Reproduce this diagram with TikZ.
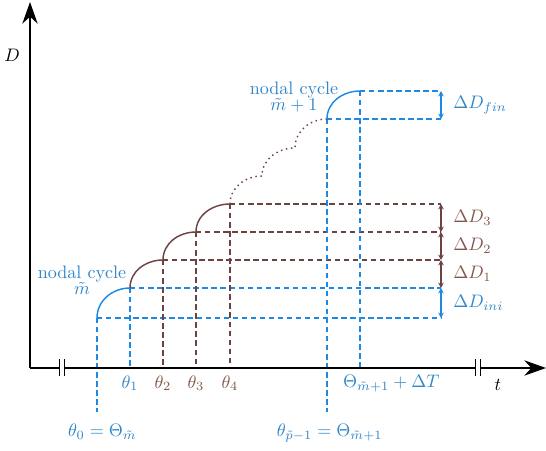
\documentclass[tikz,border=0pt]{standalone}
\usepackage{amsmath, amssymb}
\usepackage{tikz}
\usetikzlibrary{arrows.meta, positioning, calc}
\definecolor{cycBlue}{HTML}{1E88E5}
\definecolor{cycBlueTxt}{HTML}{2F86C8}
\definecolor{stepBrown}{HTML}{6D4242}
\definecolor{stepBrownTxt}{HTML}{85564C}

\begin{document}
\begin{tikzpicture}[
    x=0.553pt, y=0.553pt, >=Stealth,
    axis/.style={line width=0.7pt, -{Stealth[length=12pt, width=8.5pt]}},
    cyc/.style={line width=0.8pt, draw=#1},
    climb/.style={out=90, in=180},
    guide/.style={draw=#1, line width=0.6pt, dash pattern=on 3pt off 2pt},
    gap/.style={draw=#1, line width=0.6pt, {Stealth[length=3pt, width=3pt]}-{Stealth[length=3pt, width=3pt]}},
    lbl/.style={text=#1, inner sep=1pt},
  ]
    \useasboundingbox (-30,-83) rectangle (516,368);

    % axes ends
    \coordinate (O) at (0,0);
    \coordinate (tEnd) at (516,0);
    \coordinate (DEnd) at (0,366);
    \coordinate (brk1) at (32,0);
    \coordinate (brk2) at (448,0);
    \coordinate (col) at (411,0);
    \coordinate (low) at (0,-44);

    % step corners
    \coordinate (p0) at (67,50);
    \coordinate (p1) at (100,80);
    \coordinate (p2) at (133,108);
    \coordinate (p3) at (166,136);
    \coordinate (p4) at (200,164);
    \coordinate (q1) at (232,192);
    \coordinate (q2) at (265,220);
    \coordinate (q3) at (297,249);
    \coordinate (q4) at (330,277);

    % feet on the t axis
    \coordinate (f0) at (p0 |- low);
    \coordinate (f1) at (p1 |- O);
    \coordinate (f2) at (p2 |- O);
    \coordinate (f3) at (p3 |- O);
    \coordinate (f4) at (p4 |- O);
    \coordinate (g3) at (q3 |- low);
    \coordinate (g4) at (q4 |- O);

    % horizontal guides
    \draw[guide=cycBlue] (p0) -- (p0 -| col);
    \draw[guide=cycBlue] (p1) -- (p1 -| col);
    \draw[guide=stepBrown] (p2) -- (p2 -| col);
    \draw[guide=stepBrown] (p3) -- (p3 -| col);
    \draw[guide=stepBrown] (p4) -- (p4 -| col);
    \draw[guide=cycBlue] (q3) -- (q3 -| col);
    \draw[guide=cycBlue] (q4) -- (q4 -| col);

    % vertical guides
    \draw[guide=cycBlue] (p0) -- (f0);
    \draw[guide=cycBlue] (p1) -- (f1);
    \draw[guide=stepBrown] (p2) -- (f2);
    \draw[guide=stepBrown] (p3) -- (f3);
    \draw[guide=stepBrown] (p4) -- (f4);
    \draw[guide=cycBlue] (q3) -- (g3);
    \draw[guide=cycBlue] (q4) -- (g4);

    % increments
    \draw[gap=cycBlue] (p0 -| col) -- node[lbl=cycBlueTxt, right=5.5pt] (dIni) {$\Delta D_{ini}$} (p1 -| col);
    \draw[gap=stepBrown] (p1 -| col) -- node[lbl=stepBrownTxt, right=5.5pt] (d1) {$\Delta D_1$} (p2 -| col);
    \draw[gap=stepBrown] (p2 -| col) -- node[lbl=stepBrownTxt, right=5.5pt] (d2) {$\Delta D_2$} (p3 -| col);
    \draw[gap=stepBrown] (p3 -| col) -- node[lbl=stepBrownTxt, right=5.5pt] (d3) {$\Delta D_3$} (p4 -| col);
    \draw[gap=cycBlue] (q3 -| col) -- node[lbl=cycBlueTxt, right=5.5pt] (dFin) {$\Delta D_{fin}$} (q4 -| col);

    % damage steps
    \draw[cyc=cycBlue] (p0) to[climb] (p1);
    \draw[cyc=stepBrown] (p1) to[climb] (p2) to[climb] (p3) to[climb] (p4);
    \draw[cyc=stepBrown, dotted] (p4) to[climb] (q1) to[climb] (q2) to[climb] (q3);
    \draw[cyc=cycBlue] (q3) to[climb] (q4);

    % axes
    \draw[axis] (O) -- (tEnd);
    \draw[axis] (O) -- (DEnd);
    \foreach \b in {brk1, brk2} {
      \fill[white] ([xshift=-1.2pt, yshift=-1pt]\b) rectangle ([xshift=1.2pt, yshift=1pt]\b);
      \draw[line width=0.6pt] ([xshift=-1.2pt, yshift=-4.7pt]\b) -- ([xshift=-1.2pt, yshift=4.7pt]\b);
      \draw[line width=0.6pt] ([xshift=1.2pt, yshift=-4.7pt]\b) -- ([xshift=1.2pt, yshift=4.7pt]\b);
    }
    \node[inner sep=1pt] (tLbl) at (468,-17) {$t$};
    \node[inner sep=1pt] (DLbl) at (-18,313) {$D$};

    % instants
    \node[lbl=cycBlueTxt, below=3pt of f1] (th1) {$\theta_1$};
    \node[lbl=stepBrownTxt, below=3pt of f2] (th2) {$\theta_2$};
    \node[lbl=stepBrownTxt, below=3pt of f3] (th3) {$\theta_3$};
    \node[lbl=stepBrownTxt, below=3pt of f4] (th4) {$\theta_4$};
    \node[lbl=cycBlueTxt, below=5.5pt of f0, xshift=3pt] (th0) {$\theta_0=\Theta_{\tilde{m}}$};
    \node[lbl=cycBlueTxt, below=5.5pt of g3, xshift=1.5pt] (thp) {$\theta_{\tilde{p}-1}=\Theta_{\tilde{m}+1}$};
    \node[lbl=cycBlueTxt, below=3pt of g4, anchor=north west, xshift=-10.5pt] (thT) {$\Theta_{\tilde{m}+1}+\Delta T$};

    % cycle names
    \node[lbl=cycBlueTxt] (cycA) at (52,86) {%
      \begin{tabular}{@{}c@{}}
        nodal cycle\\[-3.4pt]
        $\tilde{m}$
      \end{tabular}};
    \node[lbl=cycBlueTxt] (cycB) at (264,270) {%
      \begin{tabular}{@{}c@{}}
        nodal cycle\\[-3.2pt]
        $\tilde{m}+1$
      \end{tabular}};
  \end{tikzpicture}
\end{document}
